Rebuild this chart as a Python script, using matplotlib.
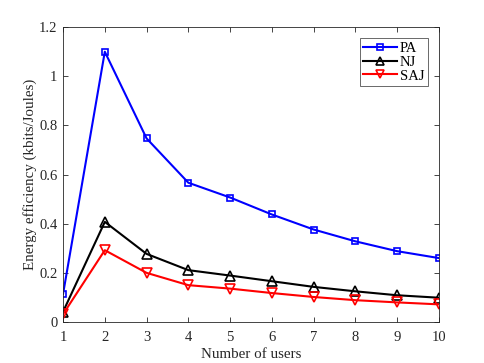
import matplotlib
matplotlib.use("Agg")
import matplotlib.pyplot as plt

users = [1, 2, 3, 4, 5, 6, 7, 8, 9, 10]
pa = [0.115, 1.099, 0.747, 0.567, 0.507, 0.438, 0.377, 0.329, 0.289, 0.261]
nj = [0.043, 0.408, 0.278, 0.212, 0.190, 0.167, 0.144, 0.126, 0.110, 0.100]
saj = [0.033, 0.293, 0.201, 0.151, 0.137, 0.119, 0.103, 0.090, 0.081, 0.073]
xticks = [1, 2, 3, 4, 5, 6, 7, 8, 9, 10]
yticks = [0, 0.2, 0.4, 0.6, 0.8, 1.0, 1.2]
ytick_labels = ["0", "0.2", "0.4", "0.6", "0.8", "1", "1.2"]

plt.rcParams['font.family'] = ['Liberation Serif', 'DejaVu Serif']
fig = plt.figure(figsize=(4.85, 3.63), dpi=100)
ax = fig.add_axes([0.130, 0.112, 0.775, 0.814])

ax.plot(users, pa, color='#0000ff', lw=1.5, marker='s', ms=5, mfc='none', mew=1.2, label='PA')
ax.plot(users, nj, color='black', lw=1.5, marker='^', ms=7, mfc='none', mew=1.2, label='NJ')
ax.plot(users, saj, color='#ff0000', lw=1.5, marker='v', ms=7, mfc='none', mew=1.2, label='SAJ')

ax.set_xlim(1, 10)
ax.set_ylim(0, 1.2)
ax.set_xticks(xticks)
ax.set_yticks(yticks)
ax.set_yticklabels(ytick_labels)
ax.tick_params(direction='in', top=True, right=True, labelsize=10.5, colors='#262626', length=3.5, width=0.6)
ax.tick_params(axis='x', pad=6)
ax.tick_params(axis='y', pad=4)
for s in ax.spines.values():
    s.set_color('#262626')
    s.set_linewidth(0.6)
ax.set_xlabel('Number of users', fontsize=10.8, color='#262626', labelpad=3)
ax.set_ylabel('Energy efficiency (kbits/Joules)', fontsize=10.8, color='#262626', labelpad=1.5)
leg = ax.legend(loc='upper right', fontsize=10.5, fancybox=False, edgecolor='#262626',
                handlelength=2.3, borderpad=0.25, labelspacing=0.05, handletextpad=0.2,
                markerscale=0.75, borderaxespad=0,
                bbox_to_anchor=(1 - 11/376, 1 - 11/296))
leg.get_frame().set_linewidth(0.6)
fig.savefig('out.png', dpi=100)
